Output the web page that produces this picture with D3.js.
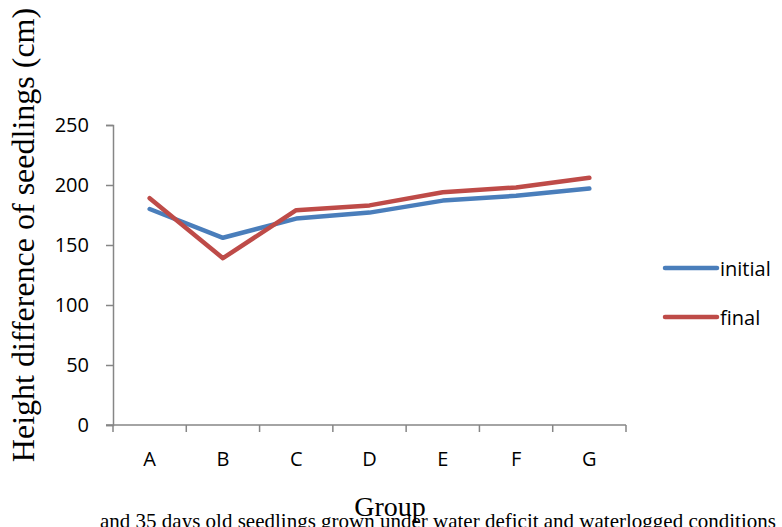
<!DOCTYPE html>
<html>
<head>
<meta charset="utf-8">
<script src="https://cdn.jsdelivr.net/npm/d3@7"></script>
<style>
  html, body { margin: 0; padding: 0; background: #fff; overflow: hidden; }
  svg { display: block; }
  text { font-variant-ligatures: none; }
</style>
</head>
<body>
<svg id="chart" width="782" height="527"></svg>
<script>
// Seedling height differences per group
const groups = ["A", "B", "C", "D", "E", "F", "G"];
const initialValues = [180, 156, 172, 177, 187, 191, 197];
const finalValues = [189, 139, 179, 183, 194, 198, 206];
const seriesNames = ["initial", "final"];
const seriesColors = ["#4A7EBB", "#BE4B48"];
const yTicks = [0, 50, 100, 150, 200, 250];

const series = [
  { name: seriesNames[0], values: initialValues, color: seriesColors[0] },
  { name: seriesNames[1], values: finalValues, color: seriesColors[1] }
];

const svg = d3.select("#chart");
const plot = { left: 113, right: 626, top: 125, bottom: 425 };
const axisColor = "#868686";
const tickFont = "'Open Sans', Lato, sans-serif";
const serif = "'Liberation Serif', 'Times New Roman', serif";

const x = d3.scaleBand().domain(groups).range([plot.left, plot.right]).padding(0);
const y = d3.scaleLinear().domain([0, 250]).range([plot.bottom, plot.top]);

// Y axis
const yAxis = svg.append("g")
  .attr("transform", `translate(${plot.left},0)`)
  .call(d3.axisLeft(y).tickValues(yTicks).tickSize(7).tickPadding(17).tickFormat(d3.format("d")));
yAxis.select(".domain").attr("stroke", axisColor).attr("stroke-width", 1.5);
yAxis.selectAll(".tick line").attr("stroke", axisColor).attr("stroke-width", 1.5);
yAxis.selectAll(".tick text")
  .attr("fill", "#000").style("font-family", tickFont).style("font-size", "20px");

// X axis: ticks on band boundaries, labels centered in bands
const xAxisG = svg.append("g").attr("transform", `translate(0,${plot.bottom})`);
xAxisG.append("line")
  .attr("x1", plot.left - 7).attr("x2", plot.right)
  .attr("stroke", axisColor).attr("stroke-width", 1.5);
const boundaries = groups.map(g => x(g)).concat([plot.right]);
xAxisG.selectAll("line.tk").data(boundaries).enter().append("line")
  .attr("class", "tk")
  .attr("x1", d => d).attr("x2", d => d)
  .attr("y1", 0).attr("y2", 7)
  .attr("stroke", axisColor).attr("stroke-width", 1.5);
xAxisG.selectAll("text").data(groups).enter().append("text")
  .attr("x", d => x(d) + x.bandwidth() / 2)
  .attr("y", 41)
  .attr("text-anchor", "middle")
  .style("font-family", tickFont).style("font-size", "20px")
  .text(d => d);

// Lines
const line = d3.line()
  .x((d, i) => x(groups[i]) + x.bandwidth() / 2)
  .y(d => y(d));

svg.selectAll("path.series").data(series).enter().append("path")
  .attr("class", "series")
  .attr("d", d => line(d.values))
  .attr("fill", "none")
  .attr("stroke", d => d.color)
  .attr("stroke-width", 4.5)
  .attr("stroke-linejoin", "round")
  .attr("stroke-linecap", "round");

// Legend
const legend = svg.append("g");
series.forEach((s, i) => {
  const ly = 268 + i * 49;
  legend.append("line")
    .attr("x1", 665).attr("x2", 717).attr("y1", ly).attr("y2", ly)
    .attr("stroke", s.color).attr("stroke-width", 4.5).attr("stroke-linecap", "round");
  legend.append("text")
    .attr("x", 720).attr("y", ly + 8)
    .style("font-family", tickFont).style("font-size", "20px")
    .text(s.name);
});

// Axis titles
svg.append("text")
  .attr("transform", `translate(34,${plot.top + 110}) rotate(-90)`)
  .attr("text-anchor", "middle")
  .style("font-family", serif)
  .style("font-size", "32px")
  .text("Height difference of seedlings (cm)");

svg.append("text")
  .attr("x", 390).attr("y", 516)
  .attr("text-anchor", "middle")
  .style("font-family", serif)
  .style("font-size", "28px")
  .text("Group");

// Figure caption line, running past the right edge
svg.append("text")
  .attr("x", 100).attr("y", 528)
  .style("font-family", serif)
  .style("font-size", "21px")
  .text("and 35 days old seedlings grown under water deficit and waterlogged conditions");
</script>
</body>
</html>
